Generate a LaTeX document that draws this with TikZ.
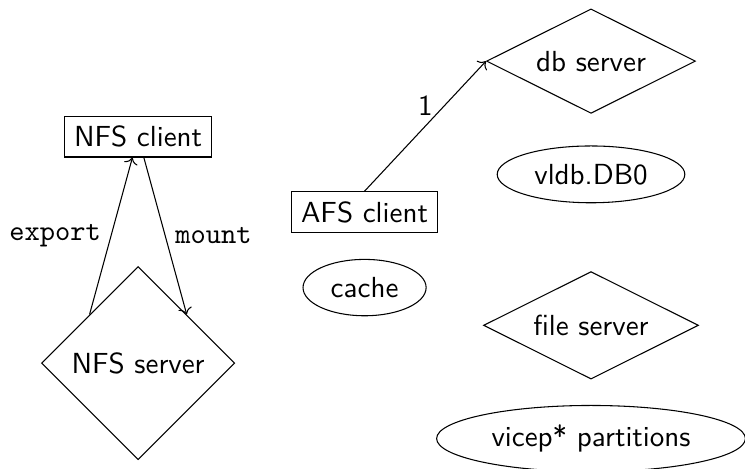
\documentclass[tikz,border=0pt,11pt]{standalone}
\usepackage{tikz}
\usetikzlibrary{arrows.meta}
\usetikzlibrary{shapes.geometric}

\begin{document}
\begin{tikzpicture}[font=\sffamily,
    client/.style={draw, rectangle},
    server/.style={draw, diamond},
    disk/.style={draw, ellipse}]
        \useasboundingbox (-1.83, -5.40) rectangle (8.04, 0.81);

        % Côté NFS
        \node[client] (nfsc) at (0, -1) {NFS client};
        \node[server] (nfss) at (0, -4) {NFS server};

        % Côté AFS
        \node[client] (afsc) at (3, -2) {AFS client};
        \node[disk] (cache) at (3, -3) {cache};
        \node[server, aspect=2] (dbs) at (6, 0) {db server};
        \node[disk] (vldb) at (6, -1.5) {vldb.DB0};
        \node[server, aspect=2] (fs) at (6, -3.5) {file server};
        \node[disk] (vicep) at (6, -5) {vicep* partitions};

        % Flèches
        \draw[->] (nfss.north west) -- (nfsc) node[midway, left] {\texttt{export}};
        \draw[->] (nfsc) -- (nfss.north east) node[midway, right] {\texttt{mount}};
        \draw[->] (afsc.north) -- (dbs.west) node[midway, above] {1};
\end{tikzpicture}
\end{document}
